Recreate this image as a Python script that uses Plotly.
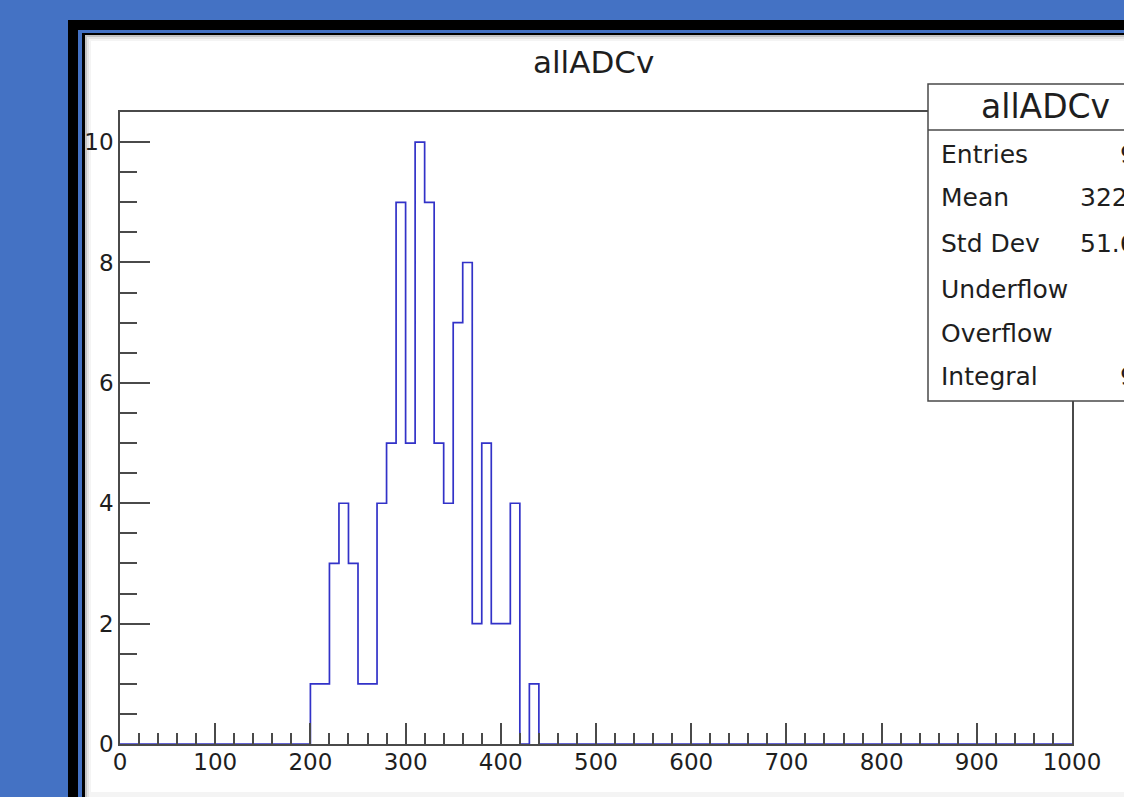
import numpy as np
import plotly.graph_objects as go

# ---------------- data ----------------
hist_title = "allADCv"
bin_low = 0.0
bin_high = 1000.0
n_bins = 100
# non-empty region of the histogram: bins of width 10 starting at 200
filled_start = 200.0
filled_counts = [1, 1, 3, 4, 3, 1, 1, 4, 5, 9, 5, 10, 9, 5, 4, 7, 8, 2, 5, 2, 2, 4, 0, 1]

x_tick_vals = list(range(0, 1001, 100))
x_tick_text = [str(v) for v in x_tick_vals]
y_tick_vals = [0, 2, 4, 6, 8, 10]
y_tick_text = [str(v) for v in y_tick_vals]

stat_labels = ["Entries", "Mean", "Std Dev", "Underflow", "Overflow", "Integral"]
stat_values = ["96", "322.2", "51.65", "0", "0", "96"]

# ---------------- build histogram ----------------
bw = (bin_high - bin_low) / n_bins
counts = np.zeros(n_bins)
i0 = int(round((filled_start - bin_low) / bw))
counts[i0:i0 + len(filled_counts)] = filled_counts
edges = bin_low + bw * np.arange(n_bins + 1)
y_step = np.append(counts, counts[-1])
y_max = 1.05 * counts.max()

# ---------------- geometry (pixels) ----------------
W, H = 1124, 797
L, R, T, B = 120, 1072, 112, 744


def px(X):
    return (X - L) / (R - L)


def py(Y):
    return (B - Y) / (B - T)


FONT = "DejaVu Sans"
TXT = "#1e1e1e"
AX = "#4a4a4a"
BLUE_BG = "#4472C4"

fig = go.Figure()
fig.add_trace(go.Scatter(
    x=edges, y=y_step, mode="lines", line_shape="hv",
    line=dict(color="#3232c8", width=1.7), showlegend=False, hoverinfo="skip",
))

shapes = []


def rect(x0, y0, x1, y1, fill, line_color=None, lw=0, layer="below"):
    d = dict(type="rect", xref="paper", yref="paper",
             x0=px(x0), x1=px(x1), y0=py(y1), y1=py(y0),
             fillcolor=fill, layer=layer,
             line=dict(width=lw, color=line_color or fill))
    shapes.append(d)


# frame around the canvas
rect(68, 20, 1140, 810, "#000000")
rect(78, 30, 1140, 810, BLUE_BG)
rect(82, 33, 1140, 810, "#000000")
rect(85, 35, 1140, 810, "#c4c4c4")
rect(87, 37, 1140, 810, "#e4e4e4")
rect(89, 39, 1140, 810, "#f4f4f4")
rect(91, 41, 1140, 792, "#ffffff")
# stats box
rect(928, 84, 1162, 401, "#ffffff", line_color=AX, lw=1.5, layer="above")
shapes.append(dict(type="line", xref="paper", yref="paper",
                   x0=px(928), x1=px(1162), y0=py(130), y1=py(130),
                   line=dict(color=AX, width=1.5), layer="above"))

annotations = []
annotations.append(dict(text=hist_title, xref="paper", yref="paper",
                        x=px(593), y=py(62), xanchor="center", yanchor="middle",
                        showarrow=False, font=dict(family=FONT, size=31, color=TXT)))
annotations.append(dict(text=hist_title, xref="paper", yref="paper",
                        x=px(1045), y=py(107), xanchor="center", yanchor="middle",
                        showarrow=False, font=dict(family=FONT, size=33, color=TXT)))
row_y = [154, 198, 243, 289, 333, 376]
for lab, val, yy in zip(stat_labels, stat_values, row_y):
    annotations.append(dict(text=lab, xref="paper", yref="paper",
                            x=px(939), y=py(yy), xanchor="left", yanchor="middle",
                            showarrow=False, font=dict(family=FONT, size=25, color=TXT)))
    annotations.append(dict(text=val, xref="paper", yref="paper",
                            x=px(1154), y=py(yy), xanchor="right", yanchor="middle",
                            showarrow=False, font=dict(family=FONT, size=25, color=TXT)))

fig.update_layout(
    width=W, height=H,
    margin=dict(l=L, r=W - R, t=T, b=H - B, pad=0),
    paper_bgcolor=BLUE_BG,
    plot_bgcolor="rgba(0,0,0,0)",
    shapes=shapes,
    annotations=annotations,
    showlegend=False,
)
fig.update_xaxes(
    range=[bin_low, bin_high], tickmode="array", tickvals=x_tick_vals, ticktext=x_tick_text,
    ticks="inside", ticklen=21, tickwidth=1.5, tickcolor=AX,
    minor=dict(ticks="inside", ticklen=11, dtick=20, tickwidth=1.5, tickcolor=AX, showgrid=False),
    showline=True, linecolor=AX, linewidth=1.5, mirror=True,
    showgrid=False, zeroline=False, layer="above traces",
    tickfont=dict(family=FONT, size=23, color=TXT), ticklabelstandoff=-3,
)
fig.update_yaxes(
    range=[0, y_max], tickmode="array", tickvals=y_tick_vals, ticktext=y_tick_text,
    ticks="inside", ticklen=30, tickwidth=1.5, tickcolor=AX,
    minor=dict(ticks="inside", ticklen=17, dtick=0.5, tickwidth=1.5, tickcolor=AX, showgrid=False),
    showline=True, linecolor=AX, linewidth=1.5, mirror=True,
    showgrid=False, zeroline=False, layer="above traces",
    tickfont=dict(family=FONT, size=23, color=TXT), ticklabelstandoff=0,
)

fig.write_html(
    "out.html",
    config={"displayModeBar": False},
    post_script="document.body.style.margin='0';document.body.style.padding='0';"
                "document.documentElement.style.overflow='hidden';",
)
